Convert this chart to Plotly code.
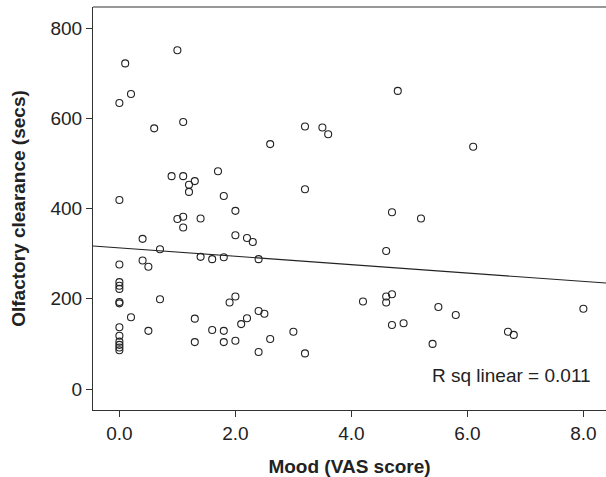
import plotly.graph_objects as go

# Data
mood = [0.1, 0.2, 0.0, 1.0, 0.6, 1.1, 2.6, 1.7, 0.9, 1.1, 1.3, 1.2, 1.2, 1.8, 2.0,
        1.0, 1.1, 1.1, 1.4, 2.0, 2.2, 2.3, 3.2, 1.4, 1.6, 1.8, 2.4, 2.0, 1.9, 1.3,
        1.6, 1.8, 1.3, 1.8, 2.0, 2.1, 2.2, 2.4, 2.5, 2.6, 3.0, 2.4, 3.2,
        0.0, 0.4, 0.7, 0.4, 0.5, 0.0, 0.0, 0.0, 0.0, 0.0, 0.0, 0.7, 0.2, 0.5,
        0.0, 0.0, 0.0, 0.0, 0.0, 0.0,
        4.8, 3.2, 3.5, 3.6, 6.1,
        4.7, 5.2, 4.6, 4.2, 4.6, 4.7, 4.6, 5.5, 5.8, 8.0, 4.7, 4.9, 5.4, 6.7, 6.8]
clearance = [722, 654, 634, 751, 578, 592, 543, 483, 472, 472, 461, 453, 437, 428, 395,
             377, 382, 358, 378, 341, 335, 326, 443, 293, 288, 292, 288, 205, 192, 156,
             131, 129, 104, 104, 107, 144, 157, 173, 167, 111, 127, 82, 79,
             419, 333, 310, 285, 271, 276, 237, 229, 222, 190, 193, 199, 159, 129,
             137, 118, 105, 98, 92, 86,
             661, 582, 580, 565, 537,
             392, 378, 306, 194, 205, 210, 192, 182, 164, 178, 142, 146, 100, 127, 120]

# Fitted regression line
fit_intercept = 313.0
fit_slope = -9.3
x_range = [-0.455, 8.39]
y_range = [-46.5, 847]
x_ticks = [0, 2, 4, 6, 8]
x_tick_text = ["0.0", "2.0", "4.0", "6.0", "8.0"]
y_ticks = [0, 200, 400, 600, 800]
r_sq_label = "R sq linear = 0.011"

fig = go.Figure()
fig.add_trace(go.Scatter(
    x=mood, y=clearance, mode="markers",
    marker=dict(symbol="circle-open", size=7, color="#222222", line=dict(width=1.1)),
    showlegend=False, hoverinfo="x+y"))
fig.add_trace(go.Scatter(
    x=x_range, y=[fit_intercept + fit_slope * v for v in x_range],
    mode="lines", line=dict(color="#222222", width=1.1),
    showlegend=False, hoverinfo="skip"))

fig.add_annotation(x=8.17, y=31, xref="x", yref="y", text=r_sq_label,
                   showarrow=False, xanchor="right", yanchor="middle",
                   font=dict(size=19, color="#222222"))

# top frame line
fig.add_shape(type="line", xref="paper", yref="paper", x0=0, x1=1.02, y0=1, y1=1,
              line=dict(color="#333333", width=1.2))

font_family = "Liberation Sans, Arial, sans-serif"
fig.update_layout(
    width=606, height=477,
    margin=dict(l=93, r=0, t=7, b=67),
    paper_bgcolor="white", plot_bgcolor="white",
    font=dict(family=font_family, size=19, color="#222222"),
    xaxis=dict(range=x_range, tickvals=x_ticks, ticktext=x_tick_text,
               showgrid=False, zeroline=False, showline=True, linecolor="#333333",
               linewidth=1.2, ticks="outside", ticklen=6, tickcolor="#333333",
               tickfont=dict(size=19),
               title=dict(text="<b>Mood (VAS score)</b>", font=dict(size=19), standoff=16)),
    yaxis=dict(range=y_range, tickvals=y_ticks,
               showgrid=False, zeroline=False, showline=True, linecolor="#333333",
               linewidth=1.2, ticks="outside", ticklen=6, tickcolor="#333333",
               tickfont=dict(size=19),
               title=dict(text="<b>Olfactory clearance (secs)</b>", font=dict(size=19), standoff=19)),
)

fig.write_html("out.html", config={"displayModeBar": False},
               post_script="document.body.style.margin='0px';document.body.style.overflow='hidden';")
